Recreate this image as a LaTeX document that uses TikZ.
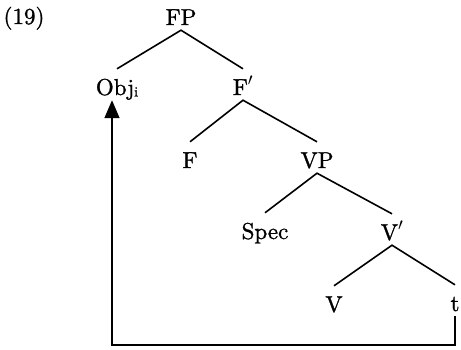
\documentclass[tikz,border=0pt]{standalone}
\usepackage{fontspec}
\newfontfamily\treefont[FakeBold=1.2]{lmroman10-regular.otf}
\usetikzlibrary{arrows.meta}
\newcommand\subidx[1]{\raisebox{-1.5pt}{\fontsize{14}{14}\selectfont #1}}
\begin{document}
\begin{tikzpicture}[x=1pt,y=-1pt,
  tn/.style={inner sep=0pt, text height=26pt, text depth=5pt, anchor=base,
             font=\treefont\fontsize{23}{27}\selectfont},
  lab/.style={inner sep=0pt, anchor=base, font=\treefont\fontsize{23}{27}\selectfont},
  branch/.style={line width=1.6pt},
  movearrow/.style={line width=1.7pt, -{Triangle[width=15pt,length=18pt]}}]
\useasboundingbox (0,0) rectangle (461,349);
\node[lab] (num) at (24,24) {(19)};
\node[tn] (FP)   at (181,25) {FP};
\node[tn] (Obj)  at (117,95) {Obj\subidx{i}};
\node[tn] (Fb)   at (243,95) {F$'$};
\node[tn] (F)    at (190,168) {F};
\node[tn] (VP)   at (317,168) {VP};
\node[tn] (Spec) at (265,239) {Spec};
\node[tn] (Vb)   at (392,240) {V$'$};
\node[tn] (V)    at (334,312) {V};
\node[tn] (t)    at (455,311) {t};
\coordinate (bl) at (112,345);
\draw[branch] (Obj.north) -- (FP.south) -- (Fb.north);
\draw[branch] (F.north) -- (Fb.south) -- (VP.north);
\draw[branch] (Spec.north) -- (VP.south) -- (Vb.north);
\draw[branch] (V.north) -- (Vb.south) -- (t.north);
\draw[movearrow] (t.south) |- (bl) -- (bl |- Obj.south);
\end{tikzpicture}
\end{document}
